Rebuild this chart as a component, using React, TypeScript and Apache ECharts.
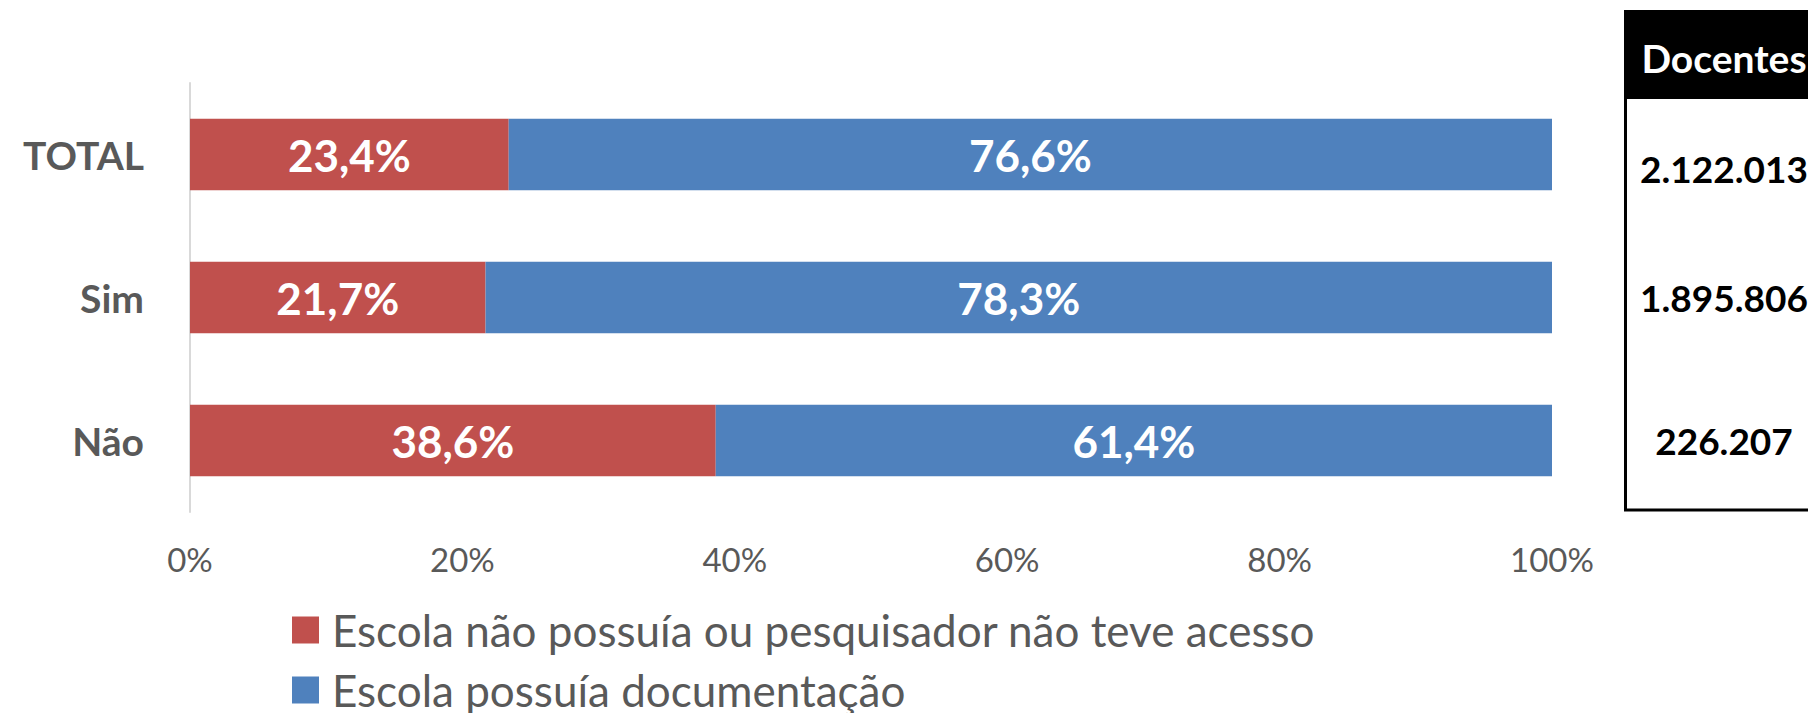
import React, { useEffect, useRef } from "react";
import * as echarts from "echarts";

const categories = ["TOTAL", "Sim", "Não"];
const semAcesso = [23.4, 21.7, 38.6];
const possuia = [76.6, 78.3, 61.4];
const docentes = ["2.122.013", "1.895.806", "226.207"];
const seriesNames = [
  "Escola não possuía ou pesquisador não teve acesso",
  "Escola possuía documentação",
];
const tableHeader = "Docentes";

const FONT = "Lato, 'Open Sans', sans-serif";

const fmt = (v: number) => `${v.toFixed(1).replace(".", ",")}%`;

export default function App() {
  const ref = useRef<HTMLDivElement>(null);
  useEffect(() => {
    document.body.style.margin = "0";
    const chart = echarts.init(ref.current!, undefined, { renderer: "svg" });
    const tableX = 1724;
    const rowY = [168, 297, 440];
    const legendBase = {
      orient: "vertical",
      left: 292,
      itemWidth: 27,
      itemHeight: 27,
      padding: 0,
      icon: "rect",
      textStyle: {
        color: "#595959",
        fontSize: 44,
        fontFamily: FONT,
        lineHeight: 36,
        padding: [0, 0, 12, 8],
      },
    };
    chart.setOption({
      animation: false,
      backgroundColor: "#ffffff",
      textStyle: { fontFamily: FONT },
      grid: { left: 190, right: 256, top: 83, bottom: 201, containLabel: false },
      xAxis: {
        type: "value",
        min: 0,
        max: 100,
        interval: 20,
        axisLine: { show: false },
        axisTick: { show: false },
        splitLine: { show: false },
        axisLabel: {
          formatter: "{value}%",
          color: "#595959",
          fontSize: 33,
          fontFamily: FONT,
          margin: 30,
        },
      },
      yAxis: {
        type: "category",
        data: categories,
        inverse: true,
        axisLine: { show: true, lineStyle: { color: "#d9d9d9", width: 2 } },
        axisTick: { show: false },
        axisLabel: {
          color: "#595959",
          fontSize: 39,
          fontWeight: "bold",
          fontFamily: FONT,
          margin: 46,
        },
      },
      legend: [
        { ...legendBase, top: 606, data: [seriesNames[0]] },
        { ...legendBase, top: 666, data: [seriesNames[1]] },
      ],
      series: [
        {
          name: seriesNames[0],
          type: "bar",
          stack: "total",
          data: semAcesso,
          barCategoryGap: "50%",
          itemStyle: { color: "#C0504D" },
          label: {
            show: true,
            position: "inside",
            color: "#ffffff",
            fontWeight: "bold",
            fontSize: 44,
            fontFamily: FONT,
            formatter: (p: any) => fmt(p.value),
          },
        },
        {
          name: seriesNames[1],
          type: "bar",
          stack: "total",
          data: possuia,
          barCategoryGap: "50%",
          itemStyle: { color: "#4F81BD" },
          label: {
            show: true,
            position: "inside",
            color: "#ffffff",
            fontWeight: "bold",
            fontSize: 44,
            fontFamily: FONT,
            formatter: (p: any) => fmt(p.value),
          },
        },
      ],
      graphic: [
        {
          type: "rect",
          shape: { x: 1624, y: 10, width: 260, height: 89 },
          style: { fill: "#000000" },
          silent: true,
        },
        {
          type: "line",
          shape: { x1: 1625.5, y1: 10, x2: 1625.5, y2: 510 },
          style: { stroke: "#000000", lineWidth: 3 },
          silent: true,
        },
        {
          type: "line",
          shape: { x1: 1624, y1: 510, x2: 1850, y2: 510 },
          style: { stroke: "#000000", lineWidth: 3 },
          silent: true,
        },
        {
          type: "text",
          x: tableX,
          y: 58,
          style: {
            text: tableHeader,
            fill: "#ffffff",
            font: `bold 39px ${FONT}`,
            textAlign: "center",
            textVerticalAlign: "middle",
          },
          silent: true,
        },
        ...docentes.map((d, i) => ({
          type: "text",
          x: tableX,
          y: rowY[i],
          style: {
            text: d,
            fill: "#000000",
            font: `bold 37px ${FONT}`,
            textAlign: "center",
            textVerticalAlign: "middle",
          },
          silent: true,
        })),
      ],
    });
    return () => chart.dispose();
  }, []);
  return (
    <div
      ref={ref}
      style={{ position: "fixed", left: 0, top: 0, width: 1808, height: 713 }}
    />
  );
}
